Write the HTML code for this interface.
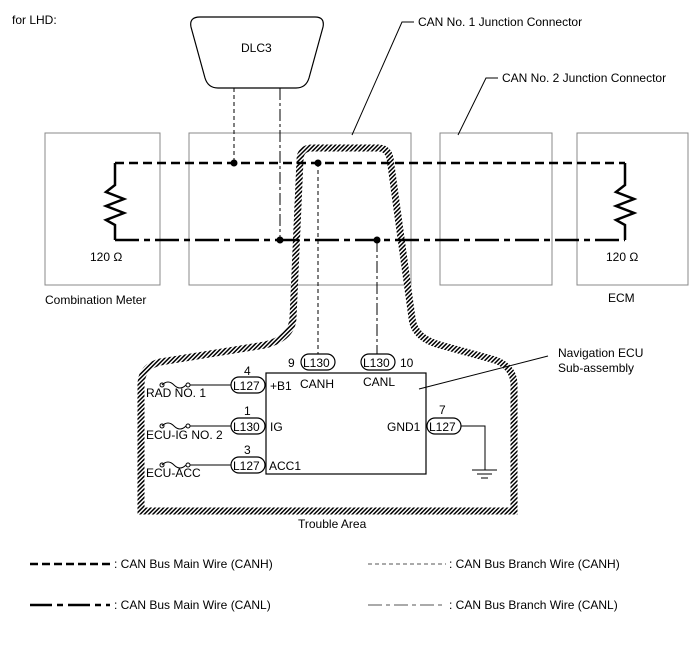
<!DOCTYPE html>
<html><head><style>body{margin:0;background:#fff}svg{display:block}text{font-family:"Liberation Sans",Arial,sans-serif;font-size:12px;fill:#000}</style></head><body>
<svg width="690" height="659" viewBox="0 0 690 659" xmlns="http://www.w3.org/2000/svg">
<defs><pattern id="h" width="3" height="3" patternUnits="userSpaceOnUse" patternTransform="rotate(45)"><rect width="3" height="3" fill="#fff"/><rect width="1.5" height="3" fill="#000"/></pattern></defs>
<text x="12" y="24" font-size="13">for LHD:</text>
<g fill="none" stroke="#888" stroke-width="1">
<rect x="45" y="133" width="115" height="152"/>
<rect x="189" y="133" width="222" height="152"/>
<rect x="440" y="133" width="112" height="152"/>
<rect x="577" y="133" width="111" height="152"/>
</g>
<path d="M200 17 L315 17 Q325 17 323 27 L309 78 Q306 88 296 88 L218 88 Q208 88 205 78 L191 27 Q189 17 200 17 Z" fill="#fff" stroke="#000" stroke-width="1.2"/>
<text x="241" y="52">DLC3</text>
<polyline points="352,135 402,22 414,22" fill="none" stroke="#000"/>
<text x="418" y="26">CAN No. 1 Junction Connector</text>
<polyline points="458,135 486,78 498,78" fill="none" stroke="#000"/>
<text x="502" y="82">CAN No. 2 Junction Connector</text>
<path d="M300 160 Q300 148 312 148 L378 148 Q388 148 390 158 L412 318 Q414 338 440 345 L495 360 Q514 367 514 385 L514 511 L141 511 L141 385 Q141 367 160 362 L265 345 Q292 338 293 318 Z" fill="none" stroke="url(#h)" stroke-width="7"/>
<g stroke="#000" stroke-width="1" fill="none">
<line x1="234" y1="88" x2="234" y2="163" stroke-dasharray="4,3"/>
<line x1="280" y1="88" x2="280" y2="240" stroke-dasharray="12,3,3,3"/>
<line x1="318" y1="163" x2="318" y2="356" stroke-dasharray="4,3"/>
<line x1="377" y1="240" x2="377" y2="356" stroke-dasharray="12,3,3,3"/>
</g>
<line x1="115" y1="163" x2="625" y2="163" stroke="#000" stroke-width="2.5" stroke-dasharray="9,5"/>
<line x1="115" y1="240" x2="625" y2="240" stroke="#000" stroke-width="2.5" stroke-dasharray="24,5,6,5"/>
<g fill="none" stroke="#000" stroke-width="2.5">
<polyline points="115,163 115,185 106,192 124,199 106,206 124,213 106,220 115,225 115,240"/>
<polyline points="625,163 625,185 616,192 634,199 616,206 634,213 616,220 625,225 625,240"/>
</g>
<g fill="#000"><circle cx="234" cy="163" r="3.5"/><circle cx="318" cy="163" r="3.5"/><circle cx="280" cy="240" r="3.5"/><circle cx="377" cy="240" r="3.5"/></g>
<text x="90" y="261">120 Ω</text><text x="606" y="261">120 Ω</text>
<text x="45" y="304">Combination Meter</text><text x="608" y="302">ECM</text>
<rect x="266" y="373" width="160" height="101" fill="#fff" stroke="#000" stroke-width="1.2"/>
<polyline points="419,389 548,356" fill="none" stroke="#000"/>
<text x="558" y="357">Navigation ECU</text><text x="558" y="372">Sub-assembly</text>
<g fill="#fff" stroke="#000" stroke-width="1.2">
<rect x="301" y="354" width="34" height="16" rx="8"/>
<rect x="361" y="354" width="34" height="16" rx="8"/>
<rect x="231" y="377" width="34" height="16" rx="8"/>
<rect x="231" y="418" width="34" height="16" rx="8"/>
<rect x="231" y="457" width="34" height="16" rx="8"/>
<rect x="427" y="418" width="34" height="16" rx="8"/>
</g>
<g font-size="12">
<text x="303" y="367">L130</text><text x="363" y="367">L130</text>
<text x="233" y="390">L127</text><text x="233" y="431">L130</text><text x="233" y="470">L127</text><text x="429" y="431">L127</text>
<text x="288" y="367">9</text><text x="400" y="367">10</text>
<text x="244" y="375">4</text><text x="244" y="415">1</text><text x="244" y="454">3</text><text x="439" y="414">7</text>
<text x="270" y="390">+B1</text><text x="300" y="388">CANH</text><text x="363" y="386">CANL</text>
<text x="270" y="431">IG</text><text x="387" y="431">GND1</text><text x="269" y="470">ACC1</text>
<text x="146" y="397">RAD NO. 1</text><text x="146" y="439">ECU-IG NO. 2</text><text x="146" y="477">ECU-ACC</text>
<text x="298" y="528">Trouble Area</text>
</g>
<g fill="none" stroke="#000" stroke-width="1">
<line x1="190" y1="385" x2="231" y2="385"/><line x1="190" y1="426" x2="231" y2="426"/><line x1="190" y1="465" x2="231" y2="465"/>
<path d="M162 385 q6 -6 12 0 q6 6 12 0 M162 426 q6 -6 12 0 q6 6 12 0 M162 465 q6 -6 12 0 q6 6 12 0"/>
<circle cx="162" cy="385" r="2"/><circle cx="188" cy="385" r="2"/><circle cx="162" cy="426" r="2"/><circle cx="188" cy="426" r="2"/><circle cx="162" cy="465" r="2"/><circle cx="188" cy="465" r="2"/>
<polyline points="461,426 485,426 485,470"/><line x1="472" y1="470" x2="497" y2="470"/><line x1="477" y1="474" x2="492" y2="474"/><line x1="481" y1="478" x2="488" y2="478"/>
</g>
<line x1="30" y1="564" x2="110" y2="564" stroke="#000" stroke-width="2.5" stroke-dasharray="8,4"/>
<text x="114" y="568">: CAN Bus Main Wire (CANH)</text>
<line x1="30" y1="605" x2="110" y2="605" stroke="#000" stroke-width="2.5" stroke-dasharray="22,5,6,5"/>
<text x="114" y="609">: CAN Bus Main Wire (CANL)</text>
<line x1="368" y1="564" x2="446" y2="564" stroke="#555" stroke-width="1" stroke-dasharray="4,3"/>
<text x="449" y="568">: CAN Bus Branch Wire (CANH)</text>
<line x1="368" y1="605" x2="446" y2="605" stroke="#555" stroke-width="1" stroke-dasharray="14,4,4,4"/>
<text x="449" y="609">: CAN Bus Branch Wire (CANL)</text>
</svg>
</body></html>
